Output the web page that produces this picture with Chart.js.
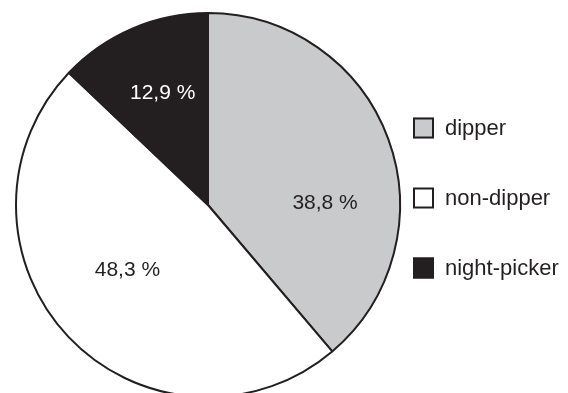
<!DOCTYPE html>
<html>
<head>
<meta charset="utf-8">
<script src="https://cdn.jsdelivr.net/npm/chart.js@4/dist/chart.umd.min.js"></script>
<style>
  html, body { margin: 0; padding: 0; background: #fff; overflow: hidden; width: 568px; height: 393px; }
  canvas { display: block; }
</style>
</head>
<body>
<canvas id="c" width="568" height="420"></canvas>
<script>
const categories = ['dipper', 'non-dipper', 'night-picker'];
const values = [38.8, 48.3, 12.9];
const valueLabels = ['38,8 %', '48,3 %', '12,9 %'];
const fillColors = ['#c9cacc', '#ffffff', '#231f20'];
const labelColors = ['#231f20', '#231f20', '#ffffff'];

const INK = '#231f20';
const FONT = '"Liberation Sans", Arial, Helvetica, sans-serif';

// label placement: angle (deg, clockwise from 12 o'clock) and radius fraction
const labelPlacement = [
  { angle: 89, r: 0.61 },
  { angle: 231, r: 0.54 },
  { angle: 338, r: 0.63 }
];

const sliceLabels = {
  id: 'sliceLabels',
  afterDatasetsDraw(chart) {
    const ctx = chart.ctx;
    const meta = chart.getDatasetMeta(0);
    ctx.save();
    ctx.font = '21px ' + FONT;
    ctx.textAlign = 'center';
    ctx.textBaseline = 'middle';
    meta.data.forEach((arc, i) => {
      const p = labelPlacement[i];
      const a = p.angle * Math.PI / 180;
      const rr = arc.outerRadius * p.r;
      const x = arc.x + Math.sin(a) * rr;
      const y = arc.y - Math.cos(a) * rr;
      ctx.fillStyle = labelColors[i];
      ctx.fillText(valueLabels[i], x, y);
    });
    ctx.restore();
  }
};

const sideLegend = {
  id: 'sideLegend',
  afterDraw(chart) {
    const ctx = chart.ctx;
    const x0 = 413, y0 = 128, gap = 70, box = 21;
    ctx.save();
    ctx.font = '22px ' + FONT;
    ctx.textBaseline = 'middle';
    ctx.textAlign = 'left';
    chart.data.labels.forEach((lab, i) => {
      const y = y0 + i * gap;
      ctx.fillStyle = chart.data.datasets[0].backgroundColor[i];
      ctx.fillRect(x0, y - box / 2, box, box);
      ctx.lineWidth = 2;
      ctx.strokeStyle = INK;
      ctx.strokeRect(x0 + 1, y - box / 2 + 1, box - 2, box - 2);
      ctx.fillStyle = INK;
      ctx.fillText(lab, x0 + 32, y + 1);
    });
    ctx.restore();
  }
};

new Chart(document.getElementById('c'), {
  type: 'pie',
  data: {
    labels: categories,
    datasets: [{
      data: values,
      backgroundColor: fillColors,
      borderColor: INK,
      borderWidth: 2
    }]
  },
  options: {
    responsive: false,
    animation: false,
    layout: { padding: { left: 15, right: 167, top: 12, bottom: 22 } },
    plugins: {
      legend: { display: false },
      tooltip: { enabled: false }
    }
  },
  plugins: [sliceLabels, sideLegend]
});
</script>
</body>
</html>
